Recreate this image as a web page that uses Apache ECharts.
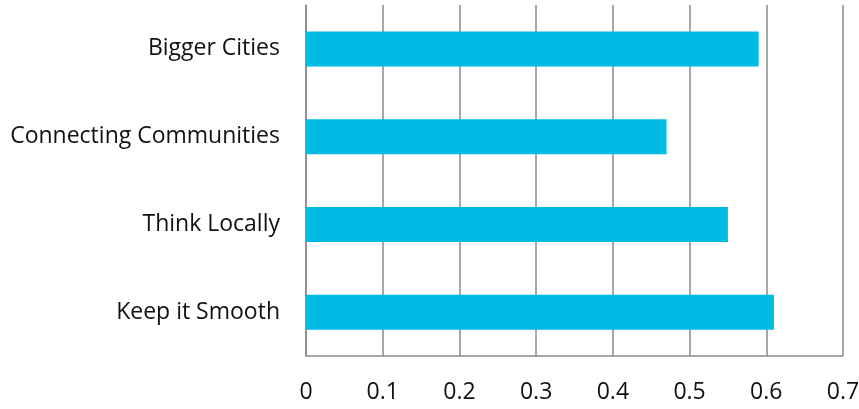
<!DOCTYPE html>
<html>
<head>
<meta charset="utf-8">
<script src="https://cdn.jsdelivr.net/npm/echarts@6/dist/echarts.min.js"></script>
<style>
  html, body { margin: 0; padding: 0; background: #fff; }
  #chart { width: 859px; height: 409px; }
</style>
</head>
<body>
<div id="chart"></div>
<script>
// Survey themes and their scores (top to bottom as drawn)
const categories = ['Keep it Smooth', 'Think Locally', 'Connecting Communities', 'Bigger Cities'];
const scores = [0.61, 0.55, 0.47, 0.59];
const xTicks = { min: 0, max: 0.7, interval: 0.1 };

const chart = echarts.init(document.getElementById('chart'));
const fontFamily = '"Open Sans", "Liberation Sans", sans-serif';

chart.setOption({
  animation: false,
  grid: { left: 306, right: 16, top: 5, bottom: 53, outerBoundsMode: 'none', containLabel: false },
  xAxis: {
    type: 'value',
    min: xTicks.min,
    max: xTicks.max,
    interval: xTicks.interval,
    axisLine: { show: true, lineStyle: { color: '#8a8a8a', width: 1.5 } },
    axisTick: { show: false },
    splitLine: { show: true, lineStyle: { color: '#8a8a8a', width: 1.5 } },
    axisLabel: {
      color: '#111',
      fontSize: 23,
      fontFamily: fontFamily,
      margin: 25,
      formatter: v => String(Math.round(v * 10) / 10)
    }
  },
  yAxis: {
    type: 'category',
    data: categories,
    axisLine: { show: true, lineStyle: { color: '#8a8a8a', width: 1.5 } },
    axisTick: { show: false },
    splitLine: { show: false },
    axisLabel: {
      color: '#111',
      fontSize: 23,
      fontFamily: fontFamily,
      margin: 26
    }
  },
  series: [{
    type: 'bar',
    data: scores,
    barWidth: 35,
    itemStyle: { color: '#00bbe3' }
  }]
});
</script>
</body>
</html>
